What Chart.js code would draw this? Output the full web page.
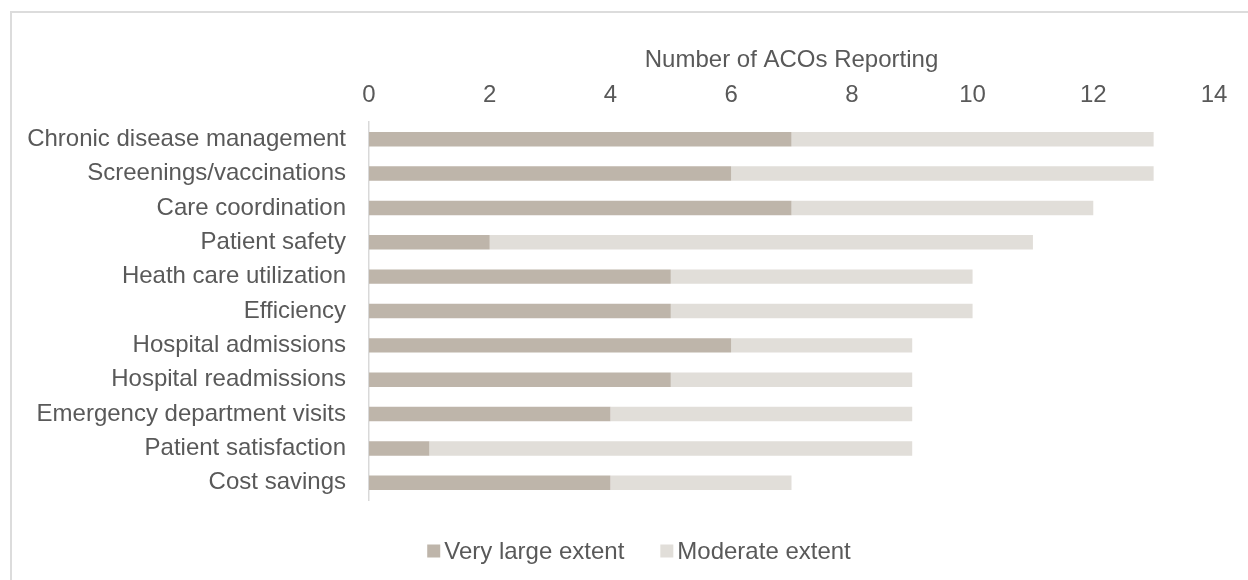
<!DOCTYPE html>
<html>
<head>
<meta charset="utf-8">
<script src="https://cdn.jsdelivr.net/npm/chart.js@4/dist/chart.umd.min.js"></script>
<style>
  html, body { margin: 0; padding: 0; background: #fff; overflow: hidden; }
  #frame {
    position: absolute; left: 10px; top: 11px;
    width: 1300px; height: 640px;
    border-left: 2px solid #dcdcdc; border-top: 2px solid #dcdcdc;
  }
  #wrap { position: absolute; left: 0; top: 0; width: 1236px; height: 567px; }
</style>
</head>
<body>
<div id="frame"><div id="wrap"><canvas id="c"></canvas></div></div>
<script>
// Outcomes tracked, top to bottom
const categories = [
  'Chronic disease management',
  'Screenings/vaccinations',
  'Care coordination',
  'Patient safety',
  'Heath care utilization',
  'Efficiency',
  'Hospital admissions',
  'Hospital readmissions',
  'Emergency department visits',
  'Patient satisfaction',
  'Cost savings'
];
const veryLarge = [7, 6, 7, 2, 5, 5, 6, 5, 4, 1, 4];
const moderate  = [6, 7, 5, 9, 5, 5, 3, 4, 5, 8, 3];
const seriesNames = ['Very large extent', 'Moderate extent'];
const xTicks = [0, 2, 4, 6, 8, 10, 12, 14];

const TEXT = '#595959';
const FONT = 'Liberation Sans, Arial, sans-serif';

// Legend drawn under the plot: small square swatch, tight gap, centred
const bottomLegend = {
  id: 'bottomLegend',
  afterDraw(chart) {
    const ctx = chart.ctx;
    ctx.save();
    ctx.font = '24px ' + FONT;
    ctx.textBaseline = 'middle';
    const box = 13, gap = 4, spacing = 36;
    const items = chart.data.datasets.map(d => ({
      label: d.label, color: d.backgroundColor, w: box + gap + ctx.measureText(d.label).width
    }));
    const total = items.reduce((s, it) => s + it.w, 0) + spacing * (items.length - 1);
    let x = 627 - total / 2;
    const cy = 538;
    items.forEach(it => {
      ctx.fillStyle = it.color;
      ctx.fillRect(x, cy - box / 2, box, box);
      ctx.fillStyle = TEXT;
      ctx.fillText(it.label, x + box + gap, cy + 1);
      x += it.w + spacing;
    });
    ctx.restore();
  }
};

new Chart(document.getElementById('c'), {
  type: 'bar',
  data: {
    labels: categories,
    datasets: [
      { label: seriesNames[0], data: veryLarge, backgroundColor: '#BEB5AA',
        barPercentage: 0.42, categoryPercentage: 1 },
      { label: seriesNames[1], data: moderate, backgroundColor: '#E1DED9',
        barPercentage: 0.42, categoryPercentage: 1 }
    ]
  },
  options: {
    indexAxis: 'y',
    responsive: true,
    maintainAspectRatio: false,
    animation: false,
    layout: { padding: { top: 28.6, right: 34, bottom: 80, left: 0 } },
    plugins: { legend: { display: false }, tooltip: { enabled: false } },
    scales: {
      x: {
        position: 'top',
        stacked: true,
        min: 0, max: 14,
        afterBuildTicks(scale) { scale.ticks = xTicks.map(v => ({ value: v })); },
        afterFit(scale) { scale.height = 80.4; },
        grid: { display: false, drawTicks: false },
        border: { display: false },
        ticks: { color: TEXT, font: { family: FONT, size: 24 }, padding: 12, maxRotation: 0 },
        title: {
          display: true, text: 'Number of ACOs Reporting', color: TEXT,
          font: { family: FONT, size: 24 }, padding: { top: 4, bottom: 4 }
        }
      },
      y: {
        stacked: true,
        afterFit(scale) { scale.width = 357; },
        grid: { display: false, drawTicks: false },
        border: { display: true, color: '#d9d9d9', width: 1.5 },
        ticks: { color: TEXT, font: { family: FONT, size: 24 }, padding: 23, autoSkip: false }
      }
    }
  },
  plugins: [bottomLegend]
});
</script>
</body>
</html>
